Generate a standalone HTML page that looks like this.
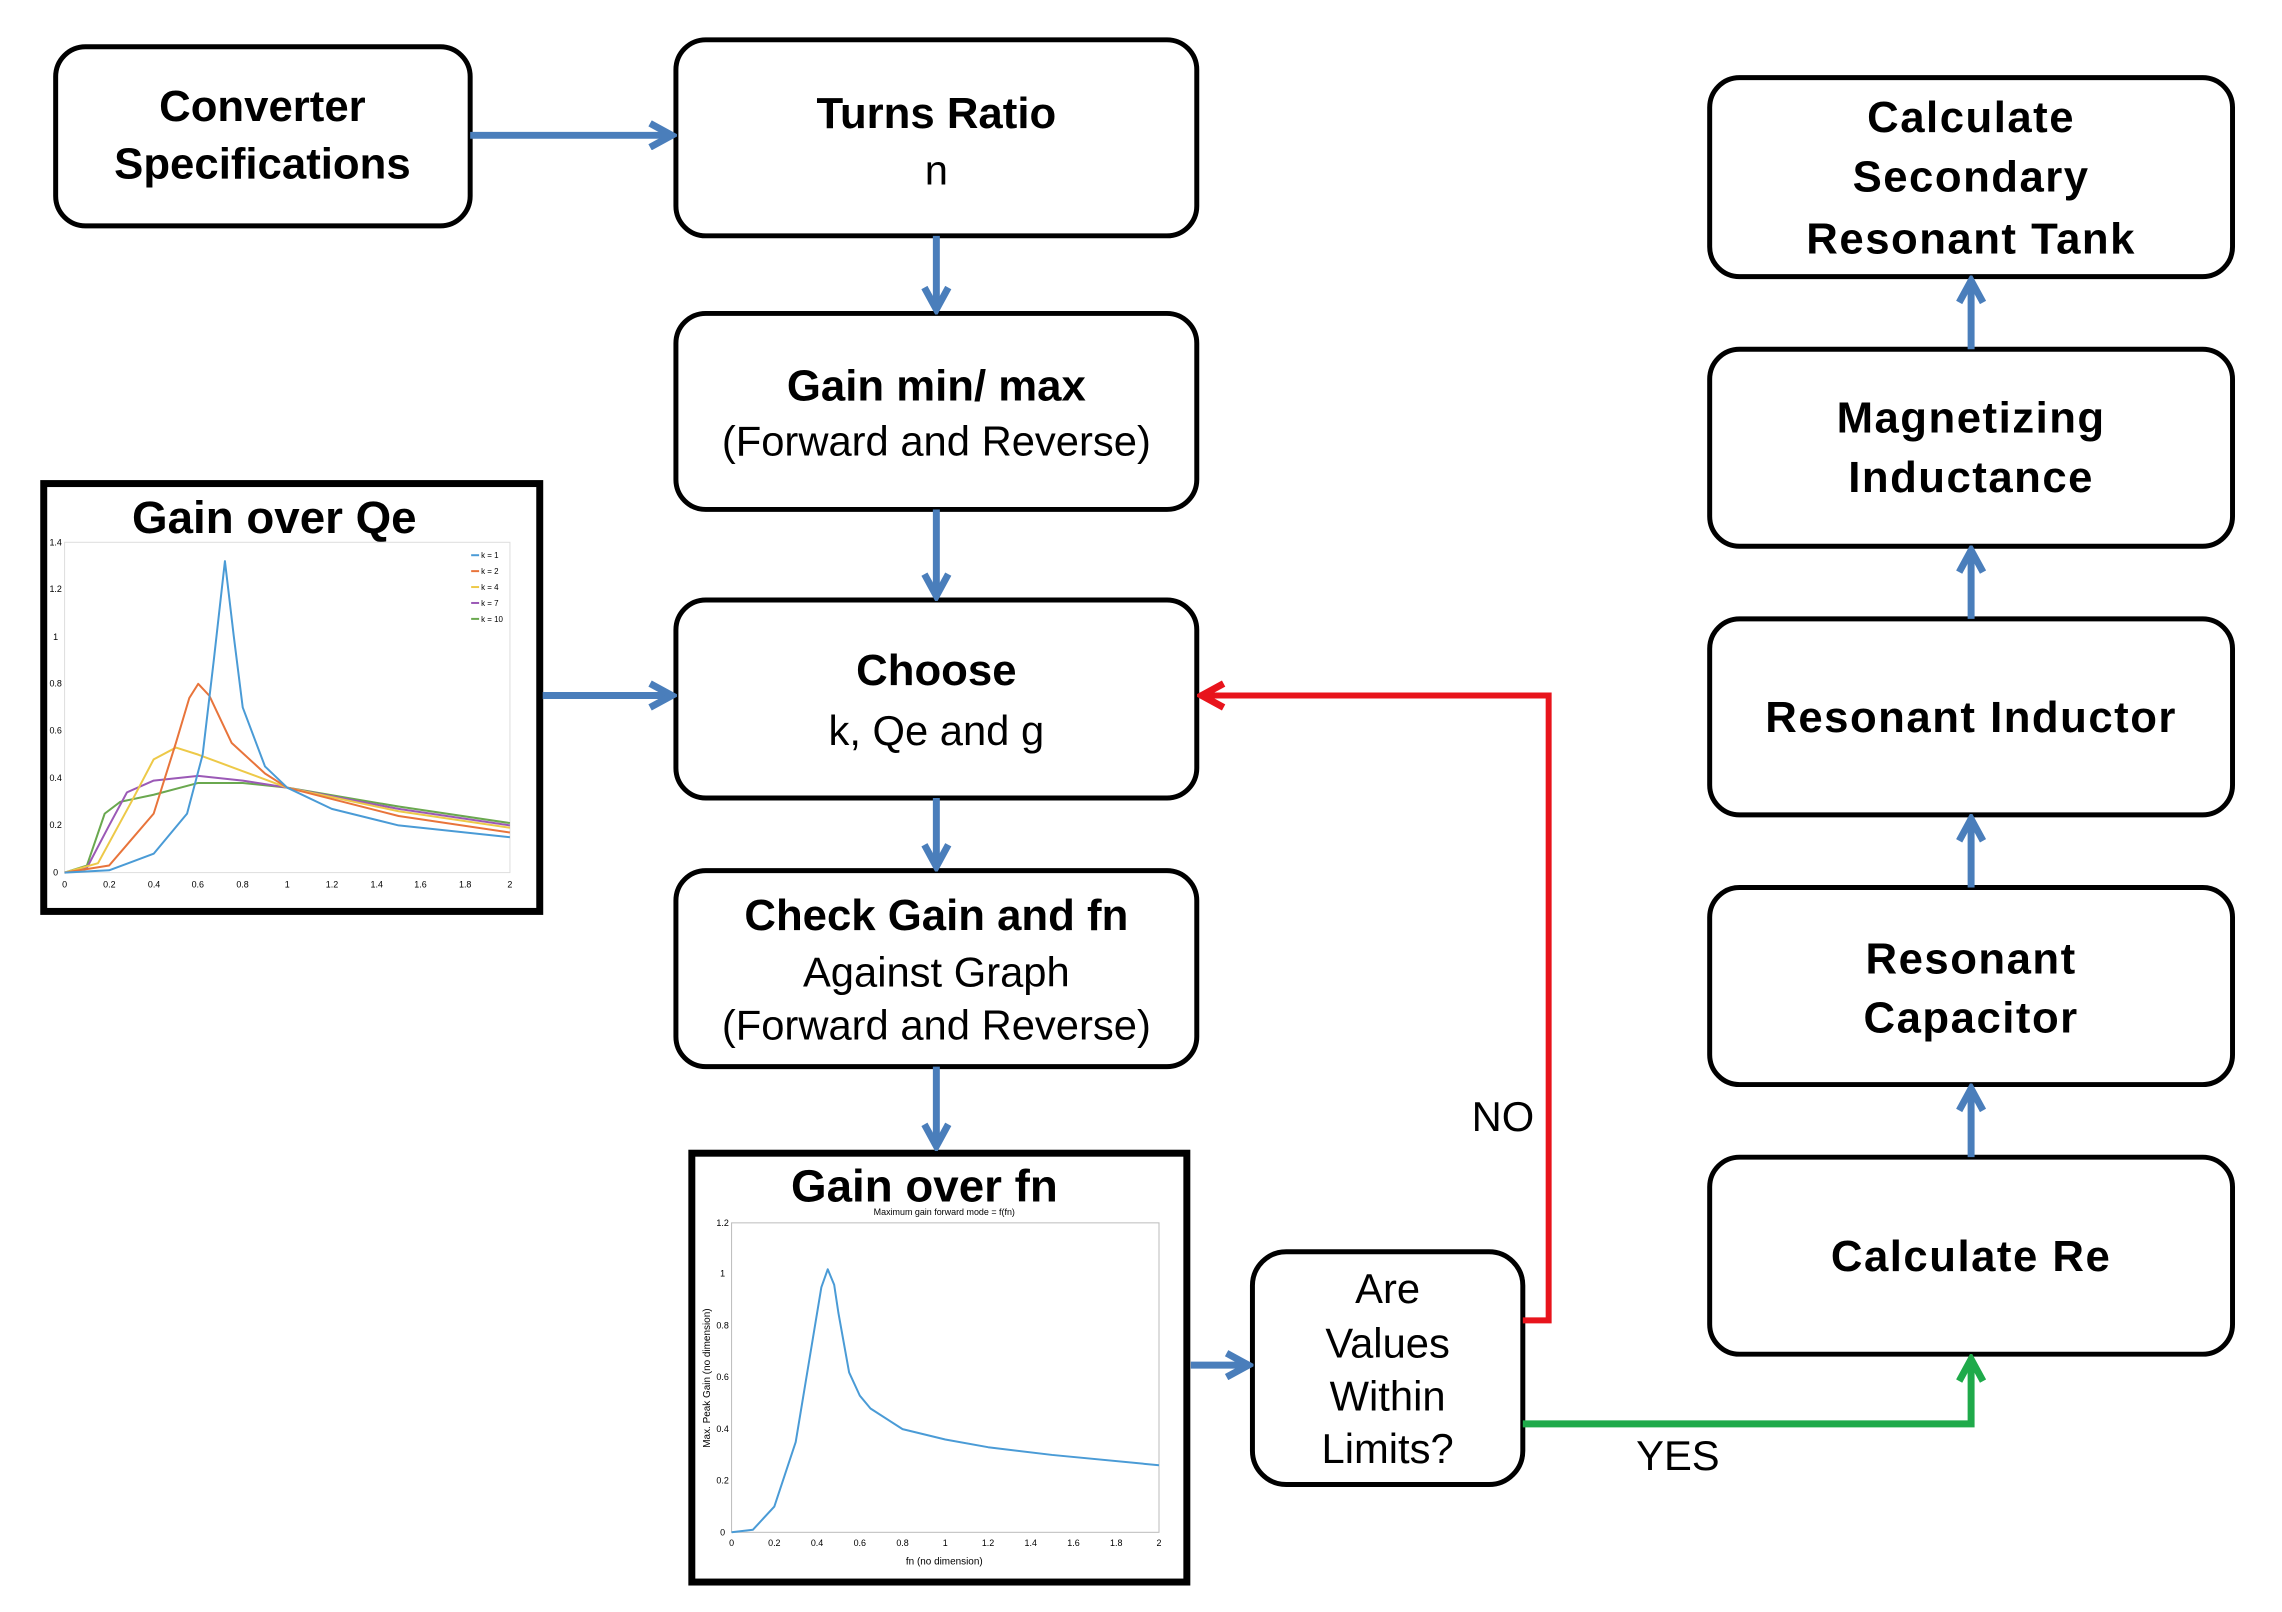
<!DOCTYPE html>
<html><head><meta charset="utf-8"><style>
html,body{margin:0;padding:0;background:#fff;}
svg{display:block;}
text{font-family:"Liberation Sans",sans-serif;fill:#000;}
.b{font-weight:bold;font-size:44px;}
.w{font-weight:bold;font-size:44px;letter-spacing:1.5px;}
.n{font-size:42px;}
</style></head><body>
<svg width="2282" height="1612" viewBox="0 0 2282 1612" xmlns="http://www.w3.org/2000/svg">
<defs>
<marker id="ab" viewBox="0 0 30 30" refX="25" refY="15" markerWidth="30" markerHeight="30" markerUnits="userSpaceOnUse" orient="auto"><path d="M3,3 L25,15 L3,27" fill="none" stroke="#4a7ebb" stroke-width="7"/></marker>
<marker id="ar" viewBox="0 0 30 30" refX="25" refY="15" markerWidth="30" markerHeight="30" markerUnits="userSpaceOnUse" orient="auto"><path d="M3,3 L25,15 L3,27" fill="none" stroke="#e8141c" stroke-width="7"/></marker>
<marker id="ag" viewBox="0 0 30 30" refX="25" refY="15" markerWidth="30" markerHeight="30" markerUnits="userSpaceOnUse" orient="auto"><path d="M3,3 L25,15 L3,27" fill="none" stroke="#1faa4a" stroke-width="7"/></marker>
</defs>
<g transform="scale(0.994 0.995)">
<g fill="#fff" stroke="#000" stroke-width="5">
<rect x="56" y="47" width="417" height="180" rx="30"/>
<rect x="680" y="40" width="524" height="197" rx="30"/>
<rect x="680" y="315" width="524" height="197" rx="30"/>
<rect x="680" y="603" width="524" height="199" rx="30"/>
<rect x="680" y="875" width="524" height="197" rx="30"/>
<rect x="1260" y="1258" width="272" height="234" rx="34"/>
<rect x="1720" y="78" width="526" height="200" rx="30"/>
<rect x="1720" y="351" width="526" height="198" rx="30"/>
<rect x="1720" y="622" width="526" height="197" rx="30"/>
<rect x="1720" y="892" width="526" height="198" rx="30"/>
<rect x="1720" y="1163" width="526" height="198" rx="30"/>
</g>
<g stroke-width="7" fill="none">
<rect x="44" y="486" width="499" height="430" stroke="#000"/>
<rect x="696" y="1159" width="498" height="431" stroke="#000"/>
</g>
<g text-anchor="middle" dominant-baseline="central">
<text class="b" x="264" y="107">Converter</text>
<text class="b" x="264" y="165">Specifications</text>
<text class="b" x="942" y="114">Turns Ratio</text>
<text class="n" x="942" y="171">n</text>
<text class="b" x="942" y="388">Gain min/ max</text>
<text class="n" x="942" y="443">(Forward and Reverse)</text>
<text class="b" x="942" y="674">Choose</text>
<text class="n" x="942" y="734">k, Qe and g</text>
<text class="b" x="942" y="920">Check Gain and fn</text>
<text class="n" x="942" y="977">Against Graph</text>
<text class="n" x="942" y="1030">(Forward and Reverse)</text>
<text class="n" x="1396" y="1295">Are</text>
<text class="n" x="1396" y="1350">Values</text>
<text class="n" x="1396" y="1403">Within</text>
<text class="n" x="1396" y="1456">Limits?</text>
<text class="w" x="1983" y="118">Calculate</text>
<text class="w" x="1983" y="178">Secondary</text>
<text class="w" x="1983" y="240">Resonant Tank</text>
<text class="w" x="1983" y="420">Magnetizing</text>
<text class="w" x="1983" y="480">Inductance</text>
<text class="w" x="1983" y="721">Resonant Inductor</text>
<text class="w" x="1983" y="964">Resonant</text>
<text class="w" x="1983" y="1023">Capacitor</text>
<text class="w" x="1983" y="1263">Calculate Re</text>
<text class="n" x="1512" y="1122">NO</text>
<text class="n" x="1688" y="1463">YES</text>
<text x="276" y="520" font-size="46" font-weight="bold">Gain over Qe</text>
<text x="930" y="1192" font-size="46" font-weight="bold">Gain over fn</text>
<text x="950" y="1218" font-size="9">Maximum gain forward mode = f(fn)</text>
<text x="950" y="1570" font-size="10">fn (no dimension)</text>
<text x="712" y="1385" font-size="10" transform="rotate(-90 712 1385)">Max. Peak Gain (no dimension)</text>
</g>
<g stroke="#4a7ebb" stroke-width="7" fill="none">
<line x1="473" y1="136" x2="676" y2="136" marker-end="url(#ab)"/>
<line x1="942" y1="237" x2="942" y2="311" marker-end="url(#ab)"/>
<line x1="942" y1="512" x2="942" y2="599" marker-end="url(#ab)"/>
<line x1="942" y1="802" x2="942" y2="871" marker-end="url(#ab)"/>
<line x1="942" y1="1072" x2="942" y2="1152" marker-end="url(#ab)"/>
<line x1="546" y1="699" x2="676" y2="699" marker-end="url(#ab)"/>
<line x1="1198" y1="1372" x2="1256" y2="1372" marker-end="url(#ab)"/>
<line x1="1983" y1="1163" x2="1983" y2="1094" marker-end="url(#ab)"/>
<line x1="1983" y1="892" x2="1983" y2="823" marker-end="url(#ab)"/>
<line x1="1983" y1="622" x2="1983" y2="553" marker-end="url(#ab)"/>
<line x1="1983" y1="351" x2="1983" y2="282" marker-end="url(#ab)"/>
</g>
<polyline points="1532,1327 1558,1327 1558,699 1209,699" fill="none" stroke="#e8141c" stroke-width="6" marker-end="url(#ar)"/>
<polyline points="1532,1431 1983,1431 1983,1366" fill="none" stroke="#1faa4a" stroke-width="7" marker-end="url(#ag)"/>
<rect x="65" y="545" width="448" height="332" fill="none" stroke="#ddd" stroke-width="1"/>
<g font-size="9" fill="#555" text-anchor="middle">
<text x="65" y="892">0</text><text x="110" y="892">0.2</text><text x="155" y="892">0.4</text><text x="199" y="892">0.6</text><text x="244" y="892">0.8</text><text x="289" y="892">1</text><text x="334" y="892">1.2</text><text x="379" y="892">1.4</text><text x="423" y="892">1.6</text><text x="468" y="892">1.8</text><text x="513" y="892">2</text>
<text x="56" y="880">0</text><text x="56" y="832">0.2</text><text x="56" y="785">0.4</text><text x="56" y="737">0.6</text><text x="56" y="690">0.8</text><text x="56" y="643">1</text><text x="56" y="595">1.2</text><text x="56" y="548">1.4</text>
</g>
<g font-size="8" fill="#444">
<line x1="474" y1="558" x2="482" y2="558" stroke="#4a9bd6" stroke-width="2"/><text x="484" y="561">k = 1</text>
<line x1="474" y1="574" x2="482" y2="574" stroke="#e8743b" stroke-width="2"/><text x="484" y="577">k = 2</text>
<line x1="474" y1="590" x2="482" y2="590" stroke="#edc948" stroke-width="2"/><text x="484" y="593">k = 4</text>
<line x1="474" y1="606" x2="482" y2="606" stroke="#9b59b6" stroke-width="2"/><text x="484" y="609">k = 7</text>
<line x1="474" y1="622" x2="482" y2="622" stroke="#6aa84f" stroke-width="2"/><text x="484" y="625">k = 10</text>
</g>
<svg x="65" y="545" width="448" height="332" viewBox="0 0 200 140" preserveAspectRatio="none" overflow="visible">
<g fill="none" stroke-width="2" stroke-linejoin="round">
<polyline vector-effect="non-scaling-stroke" stroke="#6aa84f" points="0,140 10,137 18,115 25,110 40,107 60,102 80,102 100,104 150,112 200,119"/>
<polyline vector-effect="non-scaling-stroke" stroke="#9b59b6" points="0,140 10,138 20,120 28,106 40,101 60,99 80,101 100,104 150,113 200,120"/>
<polyline vector-effect="non-scaling-stroke" stroke="#edc948" points="0,140 15,136 30,110 40,92 50,87 60,90 80,97 100,104 150,114 200,121"/>
<polyline vector-effect="non-scaling-stroke" stroke="#e8743b" points="0,140 20,137 40,115 50,85 56,66 60,60 65,65 75,85 90,98 100,104 150,116 200,123"/>
<polyline vector-effect="non-scaling-stroke" stroke="#4a9bd6" points="0,140 20,139 40,132 55,115 62,90 67,50 72,8 76,40 80,70 90,95 100,104 120,113 150,120 200,125"/>
</g>
</svg>
<rect x="736" y="1229" width="430" height="311" fill="none" stroke="#bbb" stroke-width="1"/>
<g font-size="9" fill="#555" text-anchor="middle">
<text x="736" y="1554">0</text><text x="779" y="1554">0.2</text><text x="822" y="1554">0.4</text><text x="865" y="1554">0.6</text><text x="908" y="1554">0.8</text><text x="951" y="1554">1</text><text x="994" y="1554">1.2</text><text x="1037" y="1554">1.4</text><text x="1080" y="1554">1.6</text><text x="1123" y="1554">1.8</text><text x="1166" y="1554">2</text>
<text x="727" y="1543">0</text><text x="727" y="1491">0.2</text><text x="727" y="1439">0.4</text><text x="727" y="1387">0.6</text><text x="727" y="1335">0.8</text><text x="727" y="1283">1</text><text x="727" y="1232">1.2</text>
</g>
<svg x="736" y="1229" width="430" height="311" viewBox="0 0 200 120" preserveAspectRatio="none" overflow="visible">
<polyline vector-effect="non-scaling-stroke" fill="none" stroke="#4a9bd6" stroke-width="2" stroke-linejoin="round" points="0,120 10,119 20,110 30,85 38,45 42,25 45,18 48,24 50,35 55,58 60,67 65,72 80,80 100,84 120,87 150,90 200,94"/>
</svg>
</g>
</svg>
</body></html>
